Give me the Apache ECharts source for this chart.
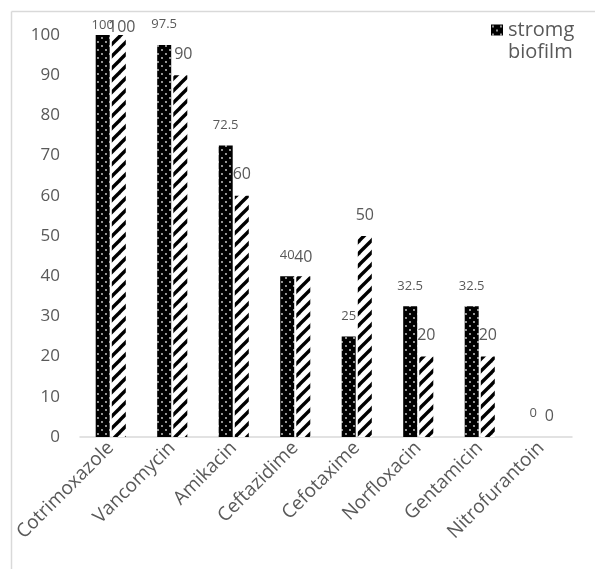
<!DOCTYPE html>
<html>
<head>
<meta charset="utf-8">
<script src="https://cdn.jsdelivr.net/npm/echarts@6/dist/echarts.min.js"></script>
<style>
  html, body { margin: 0; padding: 0; background: #fff; }
  #chart { width: 595px; height: 569px; }
</style>
</head>
<body>
<div id="chart"></div>
<script>
// Antibiotics tested
const categories = ['Cotrimoxazole', 'Vancomycin', 'Amikacin', 'Ceftazidime',
  'Cefotaxime', 'Norfloxacin', 'Gentamicin', 'Nitrofurantoin'];

// Percentages per group
const strongBiofilm = [100, 97.5, 72.5, 40, 25, 32.5, 32.5, 0];
const weakBiofilm = [100, 90, 60, 40, 50, 20, 20, 0];

const seriesNames = ['stromg biofilm', 'weak biofilm'];
const yTicks = { min: 0, max: 100, step: 10 };

// Fill patterns: black with white dots, white with black diagonal stripes
function dotPattern() {
  const c = document.createElement('canvas');
  c.width = 8; c.height = 8;
  const g = c.getContext('2d');
  g.fillStyle = '#000';
  g.fillRect(0, 0, 8, 8);
  g.fillStyle = '#d8d8d8';
  [[2, 2], [6, 6]].forEach(function (p) {
    g.beginPath();
    g.arc(p[0], p[1], 0.9, 0, Math.PI * 2);
    g.fill();
  });
  return c;
}
function stripePattern() {
  const s = 12;
  const c = document.createElement('canvas');
  c.width = s; c.height = s;
  const g = c.getContext('2d');
  g.fillStyle = '#fff';
  g.fillRect(0, 0, s, s);
  g.strokeStyle = '#000';
  g.lineWidth = 3.4;
  g.lineCap = 'square';
  [[-s, 0], [0, 0], [s, 0]].forEach(function (o) {
    g.beginPath();
    g.moveTo(o[0], s + o[1]);
    g.lineTo(s + o[0], o[1]);
    g.stroke();
  });
  return c;
}

const chart = echarts.init(document.getElementById('chart'), null, { renderer: 'canvas' });
const textColor = '#595959';
const font = "'Open Sans', 'Noto Sans', sans-serif";

// Attach per-bar label tweaks to the plain values
function labelled(values, special) {
  return values.map(function (v, i) {
    const item = { value: v };
    if (special[i]) item.label = special[i];
    return item;
  });
}

const option = {
  animation: false,
  backgroundColor: '#fff',
  textStyle: { fontFamily: font },
  grid: { left: 80, right: 23, top: 35, bottom: 132, containLabel: false },
  legend: {
    data: [seriesNames[0]],
    left: 491,
    top: -3,
    padding: 0,
    itemWidth: 12,
    itemHeight: 11,
    itemGap: 6,
    icon: 'rect',
    // blank first line keeps the swatch level with the first word
    formatter: function (n) { return '\u00a0\n' + n.replace(' ', '\n'); },
    textStyle: {
      color: textColor, fontSize: 20, fontFamily: font, lineHeight: 22
    }
  },
  xAxis: {
    type: 'category',
    data: categories,
    axisLine: { lineStyle: { color: '#d9d9d9', width: 1.5 } },
    axisTick: { show: false },
    axisLabel: {
      rotate: 45, margin: 8, interval: 0,
      color: textColor, fontSize: 19, fontFamily: font
    }
  },
  yAxis: {
    type: 'value',
    min: yTicks.min, max: yTicks.max, interval: yTicks.step,
    axisLine: { show: false },
    axisTick: { show: false },
    splitLine: { show: false },
    axisLabel: { margin: 20, color: textColor, fontSize: 17, fontFamily: font }
  },
  series: [
    {
      name: seriesNames[0],
      type: 'bar',
      barWidth: 14,
      barGap: '15%',
      itemStyle: { color: { image: dotPattern(), repeat: 'repeat' } },
      label: {
        show: true, position: 'top', distance: 14,
        color: textColor, fontSize: 13, fontFamily: font
      },
      data: labelled(strongBiofilm, { 0: { distance: 3 }, 7: { distance: 17 } })
    },
    {
      name: seriesNames[1],
      type: 'bar',
      barWidth: 14,
      barGap: '15%',
      itemStyle: { color: { image: stripePattern(), repeat: 'repeat' } },
      label: {
        show: true, position: 'top', distance: 13,
        color: textColor, fontSize: 16, fontFamily: font
      },
      data: labelled(weakBiofilm, { 0: { distance: 0, offset: [3, 0] }, 1: { offset: [3, 0] }, 3: { distance: 11 } })
    }
  ],
  graphic: [
    { type: 'line', silent: true, shape: { x1: 11.5, y1: 11.5, x2: 11.5, y2: 569 },
      style: { stroke: '#d9d9d9', lineWidth: 1.5 } },
    { type: 'line', silent: true, shape: { x1: 11.5, y1: 11.5, x2: 595, y2: 11.5 },
      style: { stroke: '#d9d9d9', lineWidth: 1.5 } }
  ]
};

chart.setOption(option);
</script>
</body>
</html>
